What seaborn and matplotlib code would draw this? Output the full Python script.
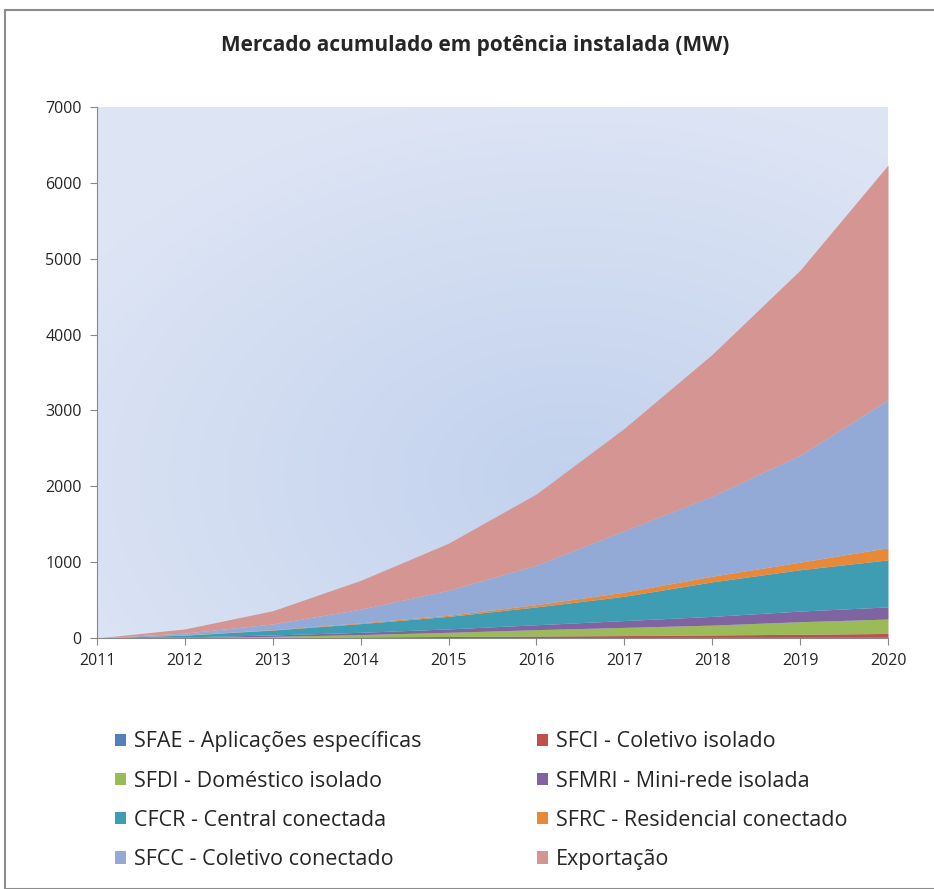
import numpy as np
import matplotlib
matplotlib.use("Agg")
import matplotlib.pyplot as plt
from matplotlib.patches import Rectangle, Patch
import seaborn as sns

# Data (MW, accumulated installed power)
years = [2011, 2012, 2013, 2014, 2015, 2016, 2017, 2018, 2019, 2020]
sfae = [0, 2, 3, 4, 5, 6, 7, 8, 9, 10]
sfci = [0, 3, 6, 10, 15, 20, 25, 32, 40, 50]
sfdi = [0, 3, 13, 31, 55, 84, 108, 130, 166, 190]
sfmri = [0, 7, 18, 30, 45, 65, 90, 115, 140, 160]
cfcr = [0, 23, 65, 115, 165, 235, 320, 455, 545, 620]
sfrc = [0, 2, 5, 10, 15, 30, 55, 75, 100, 160]
sfcc = [0, 25, 75, 180, 330, 520, 810, 1055, 1410, 1950]
exportacao = [0, 55, 175, 380, 620, 940, 1350, 1870, 2440, 3095]

labels = [
    "SFAE - Aplicações específicas", "SFCI - Coletivo isolado",
    "SFDI - Doméstico isolado", "SFMRI - Mini-rede isolada",
    "CFCR - Central conectada", "SFRC - Residencial conectado",
    "SFCC - Coletivo conectado", "Exportação",
]
colors = ["#4F81BD", "#C0504D", "#9BBB59", "#8064A2",
          "#3F9DB3", "#E8893A", "#92AAD5", "#D59592"]

sns.set_theme(style="white")
plt.rcParams["font.family"] = ["Open Sans", "DejaVu Sans"]

fig = plt.figure(figsize=(9.34, 8.89), dpi=100)
ax = fig.add_axes([97 / 934, 1 - 638 / 889, (888 - 97) / 934, (638 - 107) / 889])

# gradient background of the plot area
gx, gy = np.meshgrid(np.linspace(0, 1, 200), np.linspace(0, 1, 200))
d = np.sqrt((gx - 0.6) ** 2 + (gy - 0.3) ** 2)
d = np.clip(d / 0.75, 0, 1)
c_in = np.array([0.76, 0.82, 0.93])
c_out = np.array([0.87, 0.90, 0.96])
grad = c_in[None, None, :] * (1 - d[..., None]) + c_out[None, None, :] * d[..., None]
ax.imshow(grad, extent=[0, 1, 0, 1], transform=ax.transAxes, aspect="auto",
          origin="lower", zorder=0)

series = [sfae, sfci, sfdi, sfmri, cfcr, sfrc, sfcc, exportacao]
ax.stackplot(years, *series, colors=colors, labels=labels, zorder=2, linewidth=0)

ax.set_xlim(2011, 2020)
ax.set_ylim(0, 7000)
ax.set_xticks(years)
ax.set_yticks(range(0, 7001, 1000))
ax.tick_params(axis="both", which="both", direction="out", length=5, width=0.8,
               color="#888888", labelsize=11.5, left=True, bottom=True)
ax.tick_params(axis="y", pad=6)
ax.tick_params(axis="x", pad=6)
for s in ["top", "right"]:
    ax.spines[s].set_visible(False)
for s in ["left", "bottom"]:
    ax.spines[s].set_color("#888888")
    ax.spines[s].set_linewidth(0.8)
ax.grid(False)

fig.text(475 / 934, 1 - 46 / 889, "Mercado acumulado em potência instalada (MW)",
         ha="center", va="center", fontsize=15, fontweight="bold")

# legend in row order (two columns)
order = [0, 2, 4, 6, 1, 3, 5, 7]
handles = [Patch(facecolor=colors[i], edgecolor="none") for i in order]
fig.legend(handles, [labels[i] for i in order], ncol=2, frameon=False,
           loc="upper left", bbox_to_anchor=(96 / 934, 1 - 712 / 889),
           fontsize=15.5, handlelength=0.5, handleheight=0.5, handletextpad=0.35,
           columnspacing=5.4, labelspacing=0.85)

# outer chart border
fig.patches.append(Rectangle((5 / 934, 0), 1, 1 - 10 / 889, transform=fig.transFigure,
                             fill=False, edgecolor="#8c8c8c", linewidth=1.5))

fig.savefig("out.png", dpi=100)
